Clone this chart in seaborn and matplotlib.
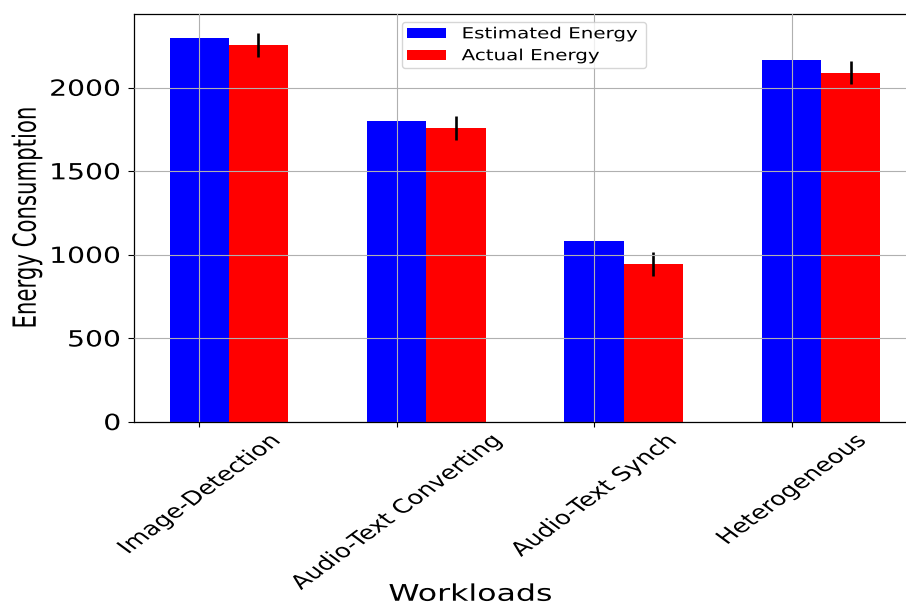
import matplotlib
matplotlib.use("Agg")
import matplotlib.pyplot as plt
import pandas as pd
import seaborn as sns
from matplotlib.patches import Patch
from matplotlib.patheffects import AbstractPathEffect
from matplotlib.transforms import Affine2D

# ---- data -----------------------------------------------------------------
workloads = ["Image-Detection", "Audio-Text Converting", "Audio-Text Synch", "Heterogeneous"]
estimated_energy = [2300, 1800, 1085, 2165]
actual_energy = [2255, 1760, 945, 2090]
actual_error = [70, 70, 70, 70]
series_names = ["Estimated Energy", "Actual Energy"]
series_colors = ["blue", "red"]
y_ticks = [0, 500, 1000, 1500, 2000]

df = pd.DataFrame({
    "Workload": workloads * 2,
    "Series": [series_names[0]] * len(workloads) + [series_names[1]] * len(workloads),
    "Energy": estimated_energy + actual_energy,
})


class WideText(AbstractPathEffect):
    """Draw a text's glyphs widened horizontally about the text's anchor point."""

    def __init__(self, text, factor):
        super().__init__()
        self._text = text
        self._factor = factor

    def draw_path(self, renderer, gc, tpath, affine, rgbFace=None):
        x0, y0 = self._text.get_transform().transform(self._text.get_unitless_position())
        widen = Affine2D().translate(-x0, -y0).scale(self._factor, 1.0).translate(x0, y0)
        renderer.draw_path(gc, tpath, affine + widen, rgbFace)


def widen(texts, factor):
    for t in texts:
        t.set_path_effects([WideText(t, factor)])


# ---- figure ---------------------------------------------------------------
fig = plt.figure(figsize=(9.06, 6.05), dpi=100)
ax = fig.add_axes([134 / 906, 183 / 605, 782 / 906, 408 / 605])

sns.barplot(
    data=df, x="Workload", y="Energy", hue="Series",
    hue_order=series_names, palette=series_colors, order=workloads,
    width=0.6, errorbar=None, saturation=1, linewidth=0, legend=False, ax=ax,
)

# error bars on the measured series, centred on its bars
red_bars = ax.containers[1]
ax.errorbar(
    [p.get_x() + p.get_width() / 2 for p in red_bars],
    [p.get_height() for p in red_bars],
    yerr=actual_error, fmt="none", ecolor="black", elinewidth=1.9, capsize=0,
)

# category ticks sit under the estimated-energy bars
blue_bars = ax.containers[0]
tick_pos = [p.get_x() + p.get_width() / 2 for p in blue_bars]
ax.set_xticks(tick_pos)
ax.set_xticklabels(workloads, rotation=45, fontsize=13.8)
ax.set_yticks(y_ticks)
ax.set_yticklabels([str(v) for v in y_ticks], fontsize=16)
ax.set_xlim(-0.48, 3.48)
ax.autoscale(enable=True, axis="y")
ax.set_ylim(bottom=0)

ax.tick_params(axis="x", length=3.5, width=0.8, pad=3.2, colors="black")
ax.tick_params(axis="y", length=4.3, width=0.8, pad=4.8, colors="black")

ax.grid(True, color="#b0b0b0", linewidth=0.8)
ax.set_axisbelow(False)
for side in ["left", "bottom", "top", "right"]:
    ax.spines[side].set_color("black")
    ax.spines[side].set_linewidth(0.9)

ax.set_xlabel("Workloads", fontsize=16.5)
ax.xaxis.set_label_coords(0.430, -0.394)
ax.set_ylabel("Energy Consumption", fontsize=15.3)
ax.yaxis.set_label_coords(-0.118, 0.5)

handles = [Patch(facecolor=c, edgecolor="none", label=n) for c, n in zip(series_colors, series_names)]
leg = ax.legend(
    handles=handles, loc="upper left", bbox_to_anchor=(0.3427, 0.5, 0.312, 0.481),
    mode="expand", borderaxespad=0, fontsize=11, handlelength=2.6, handleheight=0.7,
    handletextpad=1.0, borderpad=0.3, labelspacing=0.45,
)

widen(ax.get_yticklabels(), 1.27)
widen(ax.get_xticklabels(), 1.36)
widen([ax.xaxis.label], 1.38)
widen([ax.yaxis.label], 1.5)
widen(leg.get_texts(), 1.3)

fig.savefig("out.png", dpi=100)
